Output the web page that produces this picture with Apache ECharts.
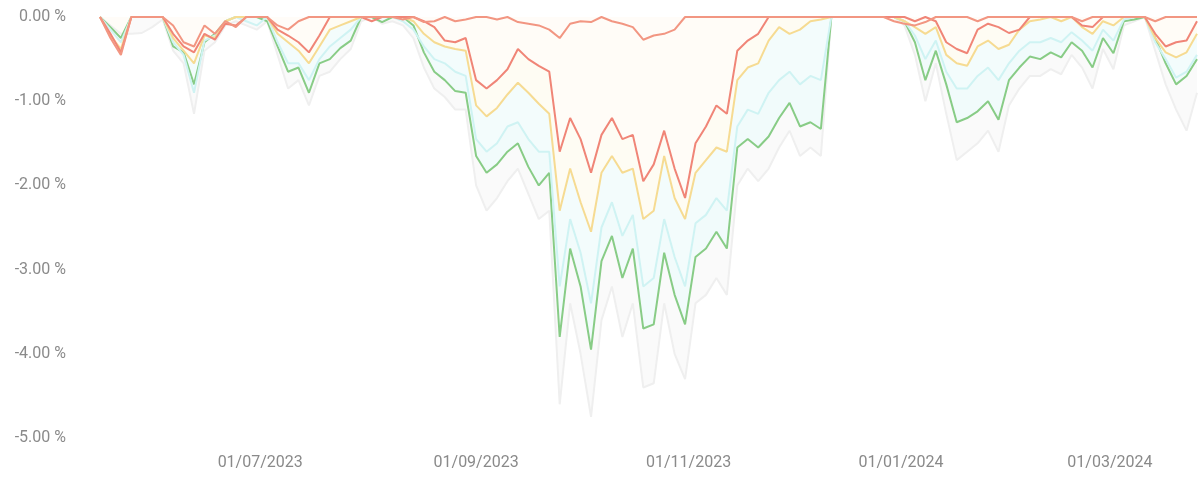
<!DOCTYPE html>
<html>
<head>
<meta charset="utf-8">
<script src="https://cdn.jsdelivr.net/npm/echarts@6/dist/echarts.min.js"></script>
<style>
html,body{margin:0;padding:0;background:#fff;}
#c{width:1201px;height:477px;}
</style>
</head>
<body>
<div id="c"></div>
<script>
// Sampling: one point every 3 calendar days from 16/05/2023
const startDate = [2023, 4, 16];
const stepDays = 3;
const xMinDate = [2023, 4, 16];
const xMaxDate = [2024, 2, 26];
const xTickDates = [[2023, 6, 1], [2023, 8, 1], [2023, 10, 1], [2024, 0, 1], [2024, 2, 1]];
const yTicks = [0, -1, -2, -3, -4, -5];

const seriesNames = ['S1', 'S2', 'S3', 'S4', 'S5', 'S6'];
const lineColors = ['#f29682', '#f08577', '#f6db92', '#cff3f3', '#88cc86', '#efefef'];
const areaColors = ['#fffcf8', '#fffcf7', '#fefcf3', '#f3fcfc', '#f1fbfb', '#fafafa'];

const s1 = [0,-0.25,-0.45,0,0,0,0,-0.1,-0.3,-0.35,
  -0.1,-0.2,-0.05,-0.12,0,0,0,-0.1,-0.15,-0.05,
  0,0,0,0,0,0,0,0,0,-0.03,
  0,-0.06,-0.05,0,-0.05,-0.03,0,0,-0.03,0,
  -0.06,-0.08,-0.1,-0.15,-0.25,-0.08,-0.05,-0.06,0,-0.05,
  -0.08,-0.12,-0.27,-0.22,-0.2,-0.15,0,0,0,0,
  0,0,0,0,0,0,0,0,0,0,
  0,0,0,0,0,0,-0.05,-0.08,-0.1,-0.06,
  0,0,0,0,-0.05,0,0,0,0,0,
  0,0,0,0,-0.05,0,0,0,0,0,
  0,-0.05,0,0,0,0];
const s2 = [0,-0.2,-0.42,0,0,0,0,-0.2,-0.35,-0.42,
  -0.2,-0.27,-0.08,-0.1,0,0,0,-0.15,-0.22,-0.3,
  -0.42,-0.22,0,0,0,0,-0.05,0,0,0,
  0,-0.05,-0.12,-0.28,-0.3,-0.25,-0.75,-0.85,-0.75,-0.62,
  -0.38,-0.5,-0.58,-0.65,-1.6,-1.2,-1.45,-1.85,-1.4,-1.2,
  -1.45,-1.4,-1.95,-1.75,-1.35,-1.8,-2.15,-1.5,-1.3,-1.05,
  -1.15,-0.4,-0.28,-0.2,0,0,0,0,0,0,
  0,0,0,0,0,0,0,0,-0.05,0,
  -0.05,-0.3,-0.38,-0.43,-0.15,-0.08,-0.12,-0.19,-0.15,0,
  0,0,0,0,-0.1,-0.12,0,0,0,0,
  0,-0.2,-0.35,-0.3,-0.28,-0.05];
const s3 = [0,-0.22,-0.38,0,0,0,0,-0.25,-0.4,-0.55,
  -0.22,-0.25,-0.05,0,0,0,0,-0.2,-0.3,-0.4,
  -0.55,-0.35,-0.15,-0.1,-0.05,0,0,0,0,0,
  -0.05,-0.2,-0.3,-0.35,-0.38,-0.4,-1.05,-1.18,-1.08,-0.92,
  -0.78,-0.9,-1.03,-1.15,-2.3,-1.8,-2.2,-2.55,-1.85,-1.65,
  -1.85,-1.8,-2.4,-2.3,-1.65,-2.15,-2.4,-1.85,-1.7,-1.55,
  -1.6,-0.75,-0.6,-0.55,-0.28,-0.12,-0.2,-0.15,-0.05,-0.03,
  0,0,0,0,0,0,0,-0.05,-0.12,-0.2,
  -0.12,-0.45,-0.55,-0.58,-0.35,-0.28,-0.38,-0.33,-0.15,-0.05,
  -0.03,0,-0.05,0,-0.12,-0.2,-0.05,-0.1,0,0,
  0,-0.25,-0.42,-0.48,-0.42,-0.2];
const s4 = [0,-0.15,-0.3,0,0,0,0,-0.3,-0.45,-0.9,
  -0.28,-0.22,-0.05,0,-0.05,-0.1,0,-0.3,-0.55,-0.55,
  -0.75,-0.5,-0.35,-0.25,-0.15,0,0,0,0,-0.05,
  -0.15,-0.35,-0.5,-0.55,-0.65,-0.7,-1.45,-1.6,-1.5,-1.3,
  -1.25,-1.45,-1.6,-1.6,-3.2,-2.4,-2.8,-3.4,-2.5,-2.2,
  -2.6,-2.35,-3.2,-3.1,-2.4,-2.85,-3.2,-2.45,-2.35,-2.15,
  -2.3,-1.3,-1.1,-1.15,-0.9,-0.75,-0.65,-0.8,-0.7,-0.75,
  0,0,0,0,0,0,0,-0.05,-0.22,-0.5,
  -0.28,-0.65,-0.85,-0.85,-0.7,-0.6,-0.75,-0.55,-0.4,-0.3,
  -0.3,-0.25,-0.3,-0.18,-0.28,-0.4,-0.15,-0.28,-0.03,0,
  0,-0.3,-0.5,-0.72,-0.65,-0.45];
const s5 = [0,-0.12,-0.25,0,0,0,0,-0.35,-0.42,-0.8,
  -0.3,-0.2,-0.05,0,0,0,-0.05,-0.35,-0.65,-0.6,
  -0.9,-0.55,-0.5,-0.37,-0.28,0,0,-0.06,0,0,
  -0.1,-0.42,-0.65,-0.75,-0.88,-0.9,-1.65,-1.85,-1.75,-1.6,
  -1.5,-1.78,-2.0,-1.85,-3.8,-2.75,-3.2,-3.95,-2.9,-2.6,
  -3.1,-2.75,-3.7,-3.65,-2.8,-3.3,-3.65,-2.85,-2.75,-2.55,
  -2.75,-1.55,-1.45,-1.55,-1.42,-1.2,-1.02,-1.3,-1.25,-1.33,
  0,0,0,0,0,0,0,-0.05,-0.3,-0.75,
  -0.4,-0.8,-1.25,-1.2,-1.12,-1.0,-1.22,-0.75,-0.6,-0.47,
  -0.5,-0.42,-0.48,-0.3,-0.4,-0.6,-0.25,-0.43,-0.05,-0.03,
  0,-0.25,-0.55,-0.8,-0.7,-0.5];
const s6 = [0,-0.1,-0.2,-0.2,-0.19,-0.12,-0.03,-0.4,-0.55,-1.15,
  -0.4,-0.3,-0.1,-0.05,-0.1,-0.15,-0.05,-0.45,-0.85,-0.75,
  -1.05,-0.7,-0.65,-0.5,-0.38,-0.05,0,-0.08,-0.05,-0.1,
  -0.25,-0.6,-0.85,-0.95,-1.1,-1.1,-2.0,-2.3,-2.15,-1.95,
  -1.8,-2.1,-2.4,-2.3,-4.6,-3.4,-4.0,-4.75,-3.6,-3.2,
  -3.8,-3.4,-4.4,-4.35,-3.4,-4.0,-4.3,-3.4,-3.3,-3.1,
  -3.3,-2.0,-1.8,-1.95,-1.8,-1.55,-1.35,-1.65,-1.55,-1.65,
  0,0,0,0,0,0,0,-0.1,-0.45,-1.0,
  -0.55,-1.15,-1.7,-1.6,-1.5,-1.35,-1.6,-1.05,-0.85,-0.7,
  -0.7,-0.62,-0.68,-0.45,-0.6,-0.85,-0.38,-0.62,-0.1,-0.05,
  0,-0.4,-0.8,-1.1,-1.35,-0.9];
const allSeries = [s1, s2, s3, s4, s5, s6];

function mkDate(a) { return new Date(a[0], a[1], a[2]).getTime(); }
function pad(n) { return (n < 10 ? '0' : '') + n; }

const times = s1.map((_, i) => new Date(startDate[0], startDate[1], startDate[2] + stepDays * i).getTime());

const series = [];
for (let k = allSeries.length - 1; k >= 0; k--) {
  series.push({
    name: seriesNames[k] + '_area', type: 'line', z: 1,
    data: allSeries[k].map((v, i) => [times[i], v]),
    showSymbol: false, silent: true,
    lineStyle: { width: 0 },
    areaStyle: { color: areaColors[k], opacity: 1 },
  });
}
for (let k = allSeries.length - 1; k >= 0; k--) {
  series.push({
    name: seriesNames[k], type: 'line', z: 2,
    data: allSeries[k].map((v, i) => [times[i], v]),
    showSymbol: false,
    lineStyle: { width: 2, color: lineColors[k] },
  });
}

const chart = echarts.init(document.getElementById('c'), null, { renderer: 'canvas' });
chart.setOption({
  animation: false,
  backgroundColor: '#ffffff',
  grid: { left: 100, right: 4, top: 17, bottom: 39 },
  xAxis: {
    type: 'value',
    min: mkDate(xMinDate),
    max: mkDate(xMaxDate),
    axisLine: { show: false },
    axisTick: { show: false },
    splitLine: { show: false },
    axisLabel: {
      customValues: xTickDates.map(mkDate),
      formatter: function (v) { const d = new Date(v); return pad(d.getDate()) + '/' + pad(d.getMonth() + 1) + '/' + d.getFullYear(); },
      color: '#8a8a8a', fontSize: 16, fontFamily: 'Roboto', margin: 17,
    },
  },
  yAxis: {
    type: 'value',
    min: yTicks[yTicks.length - 1], max: yTicks[0], interval: 1,
    axisLine: { show: false },
    axisTick: { show: false },
    splitLine: { show: false },
    axisLabel: {
      formatter: function (v) { return v.toFixed(2) + ' %'; },
      color: '#8a8a8a', fontSize: 16, fontFamily: 'Roboto', margin: 34,
    },
  },
  series: series,
});
</script>
</body>
</html>
